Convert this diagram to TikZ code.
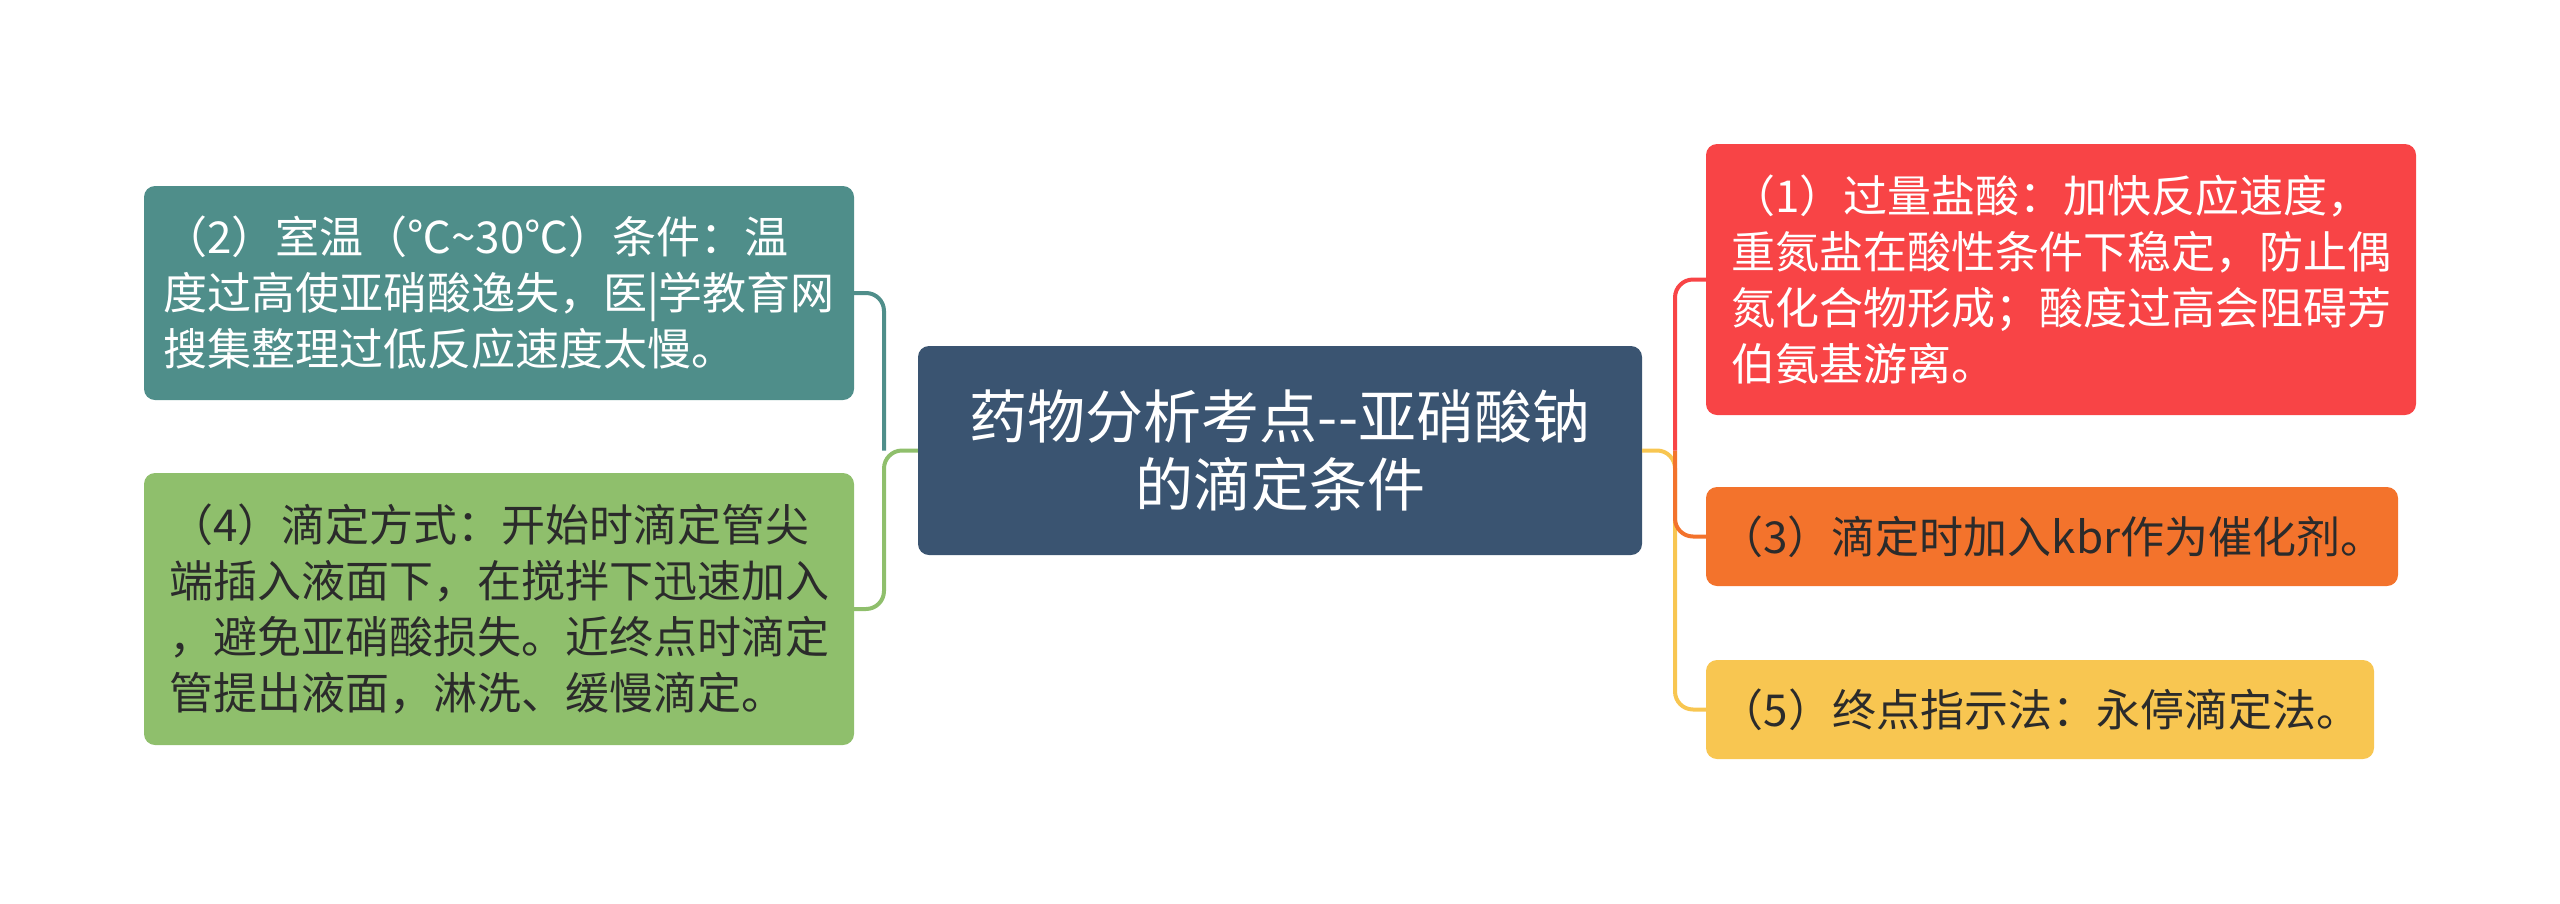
\documentclass[tikz,border=0pt]{standalone}
\usepackage{fontspec}
\setmainfont{Noto Sans CJK SC}
\definecolor{cteal}{HTML}{4F8E8A}
\definecolor{cgreen}{HTML}{8FBF6C}
\definecolor{ccenter}{HTML}{3A5471}
\definecolor{cred}{HTML}{F84446}
\definecolor{corange}{HTML}{F3732C}
\definecolor{cyellow}{HTML}{F8C651}
\definecolor{cdark}{HTML}{2B2B2B}
\begin{document}
\begin{tikzpicture}[x=1pt,y=-1pt,
  box/.style={rounded corners=11pt, inner sep=0pt, align=left,
    font=\fontsize{44pt}{56pt}\selectfont},
  centerbox/.style={rounded corners=11pt, inner sep=0pt, align=center, fill=ccenter, text=white,
    font=\fontsize{58pt}{68pt}\selectfont},
  conn/.style={line width=4pt, rounded corners=18pt}]
\useasboundingbox (0,0) rectangle (2560,903);
\coordinate (lx) at (884,0);
\coordinate (rx) at (1675,0);

\node[centerbox, minimum width=724pt, minimum height=209pt] (c) at (1280,450.5)
  {药物分析考点{-}{-}亚硝酸钠\\的滴定条件};

\node[box, fill=cteal, text=white, minimum width=710pt, minimum height=214pt] (n2) at (499,293)
  {（2）室温（℃\char"007E 30℃）条件：温\\度过高使亚硝酸逸失，医|学教育网\\搜集整理过低反应速度太慢。};
\node[box, fill=cgreen, text=cdark, minimum width=710pt, minimum height=272pt] (n4) at (499,609)
  {（4）滴定方式：开始时滴定管尖\\端插入液面下，在搅拌下迅速加入\\，避免亚硝酸损失。近终点时滴定\\管提出液面，淋洗、缓慢滴定。};

\node[box, fill=cred, text=white, minimum width=710pt, minimum height=271pt] (n1) at (2061,279.5)
  {（1）过量盐酸：加快反应速度，\\重氮盐在酸性条件下稳定，防止偶\\氮化合物形成；酸度过高会阻碍芳\\伯氨基游离。};
\node[box, fill=corange, text=cdark, minimum width=692pt, minimum height=99pt] (n3) at (2052,536.5)
  {（3）滴定时加入kbr作为催化剂。};
\node[box, fill=cyellow, text=cdark, minimum width=668pt, minimum height=99pt] (n5) at (2040,709.5)
  {（5）终点指示法：永停滴定法。};

\draw[conn, cteal] (c.west -| lx) -- (n2.east -| lx) -- (n2.east);
\draw[conn, cgreen] (c.west) -- (c.west -| lx) -- (n4.east -| lx) -- (n4.east);
\draw[conn, cyellow] (c.east) -- (c.east -| rx) -- (n5.west -| rx) -- (n5.west);
\draw[conn, corange] (c.east -| rx) -- (n3.west -| rx) -- (n3.west);
\draw[conn, cred] (c.east -| rx) -- (n1.west -| rx) -- (n1.west);
\end{tikzpicture}
\end{document}
